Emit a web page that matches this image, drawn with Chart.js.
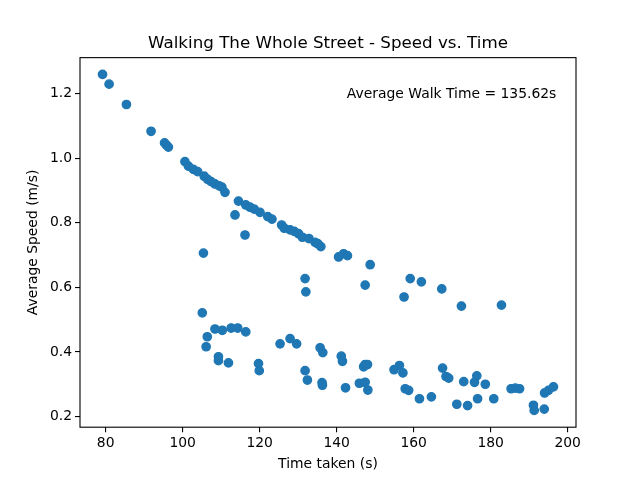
<!DOCTYPE html>
<html>
<head>
<meta charset="utf-8">
<title>Walking The Whole Street - Speed vs. Time</title>
<script src="https://cdn.jsdelivr.net/npm/chart.js@4.4.1/dist/chart.umd.min.js"></script>
<style>
    body { margin: 0; background: #fff; }
    canvas { display: block; }
</style>
</head>
<body>
<canvas id="speedChart" width="640" height="480"></canvas>
<script>
// Walk times (s) and matching average speeds (m/s), one pair per walk
const timeTaken = [
    79.2, 80.9, 85.4, 91.8, 95.3, 95.8, 96.3, 100.6, 101.5, 102.8,
    103.9, 105.6, 106.5, 107.4, 108.4, 109.5, 110.2, 111.0, 113.6, 114.5,
    116.4, 116.2, 117.5, 118.6, 120.1, 122.1, 123.2, 125.7, 126.4, 127.9,
    129.0, 130.1, 131.1, 132.8, 134.4, 135.1, 135.9, 140.5, 141.8, 142.8,
    148.7, 131.8, 132.0, 147.4, 157.5, 159.1, 162.0, 167.3, 172.4, 182.8,
    105.4,
    105.1, 108.4, 110.3, 112.6, 114.3, 116.4, 106.4, 106.1, 109.3, 109.3,
    111.9, 119.7, 119.9, 125.3, 127.9, 129.6, 131.8, 132.4, 135.7, 136.4,
    136.2, 136.3, 141.2, 141.5, 142.3, 145.9, 147.0, 147.4, 148.0, 147.4,
    148.1, 154.9, 156.3, 157.2, 157.8, 158.7, 161.5, 164.6, 167.5, 168.4,
    169.1, 171.2, 173.0, 174.0, 175.8, 176.4, 176.6, 178.6, 180.8, 185.3,
    186.4, 187.5, 191.1, 191.3, 193.9, 194.0, 195.0, 196.3
];
const avgSpeed = [
    1.259, 1.229, 1.166, 1.083, 1.047, 1.040, 1.034, 0.989, 0.975, 0.965,
    0.958, 0.944, 0.934, 0.927, 0.920, 0.914, 0.910, 0.894, 0.824, 0.867,
    0.855, 0.762, 0.848, 0.842, 0.832, 0.819, 0.811, 0.793, 0.783, 0.778,
    0.773, 0.766, 0.755, 0.751, 0.739, 0.735, 0.726, 0.694, 0.704, 0.698,
    0.670, 0.627, 0.586, 0.607, 0.570, 0.627, 0.617, 0.595, 0.542, 0.545,
    0.706,
    0.521, 0.471, 0.467, 0.474, 0.474, 0.462, 0.447, 0.416, 0.385, 0.373,
    0.366, 0.364, 0.342, 0.425, 0.441, 0.425, 0.342, 0.313, 0.413, 0.398,
    0.305, 0.297, 0.387, 0.371, 0.289, 0.303, 0.354, 0.361, 0.361, 0.306,
    0.282, 0.345, 0.358, 0.335, 0.286, 0.281, 0.255, 0.261, 0.350, 0.324,
    0.319, 0.238, 0.308, 0.234, 0.306, 0.326, 0.255, 0.300, 0.255, 0.286,
    0.288, 0.286, 0.235, 0.219, 0.223, 0.273, 0.281, 0.292
];
const xTicks = [80, 100, 120, 140, 160, 180, 200];
const yTicks = [0.2, 0.4, 0.6, 0.8, 1.0, 1.2];
const noteText = 'Average Walk Time = 135.62s';
const noteAt = { x: 142.65, y: 1.198 };

const FONT = '"DejaVu Sans", "Liberation Sans", sans-serif';
const BLUE = '#1f77b4';

// axis limits padded by 5% of the data range on each side
function paddedRange(values) {
    const lo = Math.min(...values), hi = Math.max(...values);
    const m = (hi - lo) * 0.05;
    return { min: lo - m, max: hi + m };
}
const xRange = paddedRange(timeTaken);
const yRange = paddedRange(avgSpeed);

// Box around the plot area plus the note text
const frameAndNote = {
    id: 'frameAndNote',
    afterLayout(chart) {
        // center the title over the plot area, not the whole canvas
        if (chart.titleBlock) {
            chart.titleBlock.left = chart.chartArea.left;
            chart.titleBlock.right = chart.chartArea.right;
        }
    },
    afterDraw(chart) {
        const { ctx, chartArea: a, scales } = chart;
        ctx.save();
        ctx.strokeStyle = '#000';
        ctx.lineWidth = 1.1;
        ctx.strokeRect(a.left, a.top, a.right - a.left, a.bottom - a.top);
        ctx.fillStyle = '#000';
        ctx.font = '13.9px ' + FONT;
        ctx.textAlign = 'left';
        ctx.textBaseline = 'middle';
        ctx.fillText(noteText, scales.x.getPixelForValue(noteAt.x), scales.y.getPixelForValue(noteAt.y));
        ctx.restore();
    }
};

const axisGrid = {
    display: true,
    drawOnChartArea: false,
    drawTicks: true,
    tickLength: 5,
    color: '#000',
    tickColor: '#000',
    lineWidth: 1.1
};

const ctx = document.getElementById('speedChart').getContext('2d');
const speedChart = new Chart(ctx, {
    type: 'scatter',
    data: {
        datasets: [{
            label: 'Walks',
            data: timeTaken.map((t, i) => ({ x: t, y: avgSpeed[i] })),
            backgroundColor: BLUE,
            borderColor: BLUE,
            borderWidth: 1.3,
            pointRadius: 4.2,
            pointHoverRadius: 4.2
        }]
    },
    options: {
        responsive: false,
        animation: false,
        events: [],
        devicePixelRatio: 1,
        layout: { padding: { top: 0, right: 64, bottom: 0, left: 0 } },
        plugins: {
            legend: { display: false },
            tooltip: { enabled: false },
            title: {
                display: true,
                text: 'Walking The Whole Street - Speed vs. Time',
                color: '#000',
                font: { family: FONT, size: 16.7, weight: 'normal', lineHeight: 1.2 },
                padding: { top: 34, bottom: 3.6 }
            }
        },
        scales: {
            x: {
                type: 'linear',
                min: xRange.min,
                max: xRange.max,
                afterBuildTicks: s => { s.ticks = xTicks.map(v => ({ value: v })); },
                afterFit: s => { s.height = 52.8; },
                grid: axisGrid,
                border: { display: false },
                ticks: {
                    color: '#000',
                    padding: 3,
                    maxRotation: 0,
                    font: { family: FONT, size: 13.9 },
                    callback: v => String(v)
                },
                title: {
                    display: true,
                    text: 'Time taken (s)',
                    color: '#000',
                    font: { family: FONT, size: 13.9 },
                    padding: { top: 0, bottom: 7.7 }
                }
            },
            y: {
                type: 'linear',
                min: yRange.min,
                max: yRange.max,
                afterBuildTicks: s => { s.ticks = yTicks.map(v => ({ value: v })); },
                afterFit: s => { s.width = 80; },
                grid: axisGrid,
                border: { display: false },
                ticks: {
                    color: '#000',
                    padding: 3,
                    font: { family: FONT, size: 13.9 },
                    callback: v => v.toFixed(1)
                },
                title: {
                    display: true,
                    text: 'Average Speed (m/s)',
                    color: '#000',
                    font: { family: FONT, size: 13.9 },
                    padding: { top: 25, bottom: 0 }
                }
            }
        }
    },
    plugins: [frameAndNote]
});
</script>
</body>
</html>
